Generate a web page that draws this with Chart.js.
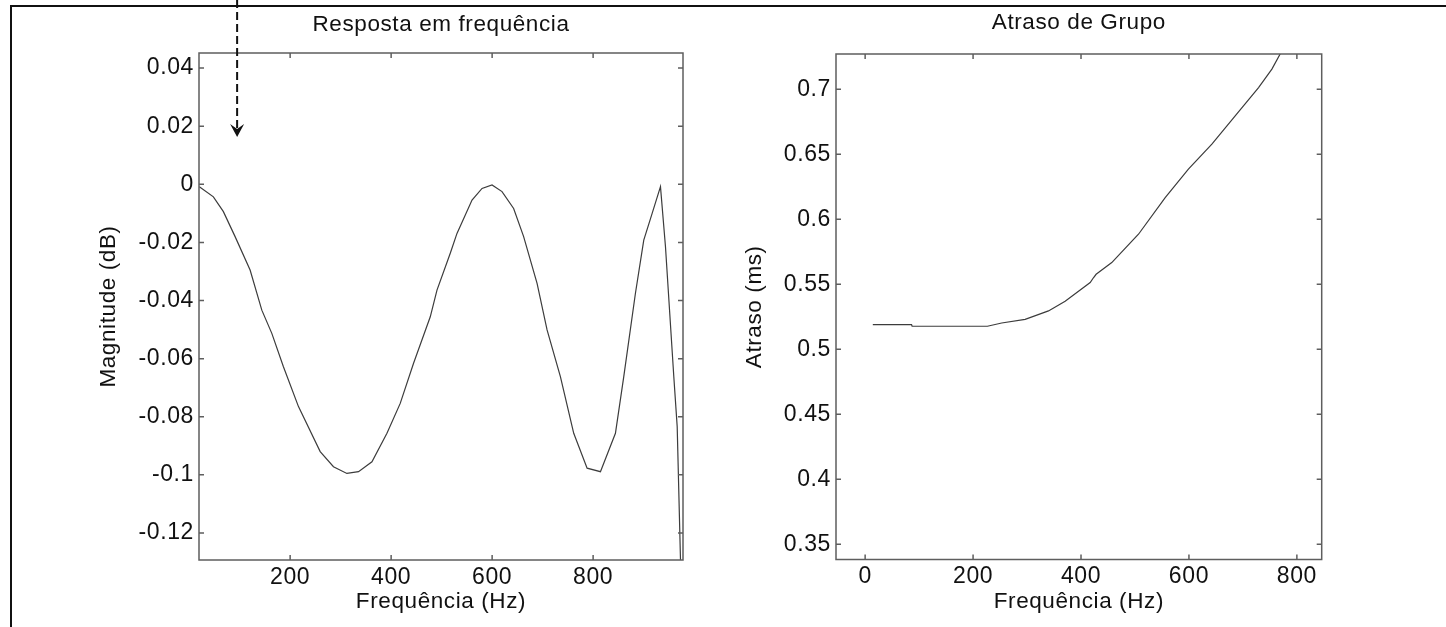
<!DOCTYPE html>
<html lang="pt">
<head>
<meta charset="utf-8">
<title>Resposta em frequência / Atraso de Grupo</title>
<script src="https://cdn.jsdelivr.net/npm/chart.js@4.4.1/dist/chart.umd.min.js"></script>
<style>
  html, body { margin: 0; padding: 0; background: #fff; }
  body { width: 1446px; height: 627px; position: relative; overflow: hidden; }
  #frame {
    position: absolute; left: 10px; top: 5px; width: 1450px; height: 640px;
    border-top: 2px solid #111; border-left: 2px solid #111;
  }
  #chartMag   { position: absolute; left: 0;     top: 0; }
  #chartDelay { position: absolute; left: 730px; top: 0; }
</style>
</head>
<body>
<div id="frame"></div>
<canvas id="chartMag" width="730" height="627"></canvas>
<canvas id="chartDelay" width="716" height="627"></canvas>

<script>
// ── Dados: resposta em frequência ─────────────────────────────
const magFreq = [
  20.2, 48, 67.8, 91, 120.7, 143.9, 163.7, 186.7, 216.5, 259.5,
  285.8, 312.4, 335.4, 362, 391.7, 418, 444.4, 477.5, 490.8, 517.1,
  530.4, 560.2, 580, 599.8, 619.6, 642.6, 662.4, 689, 708.8, 735.2,
  761.6, 788.1, 814.5, 844.2, 860.7, 883.8, 900.3, 916.9, 933.4, 943.3,
  959.8, 966.5, 973, 976
];
const magDb = [
  -0.0008, -0.0043, -0.0094, -0.018, -0.0295, -0.0433, -0.0513, -0.0628, -0.0765, -0.092,
  -0.0972, -0.0995, -0.0989, -0.0955, -0.0857, -0.0754, -0.0616, -0.0456, -0.0364, -0.0237,
  -0.0169, -0.0054, -0.0014, -0.0002, -0.0025, -0.0083, -0.018, -0.0341, -0.0501, -0.0662,
  -0.0857, -0.0977, -0.0989, -0.0857, -0.0662, -0.0375, -0.0192, -0.01, -0.0008, -0.0215,
  -0.0662, -0.0834, -0.129, -0.16
];
const magXTicks  = [200, 400, 600, 800];
const magYTicks  = [-0.12, -0.1, -0.08, -0.06, -0.04, -0.02, 0, 0.02, 0.04];
const magYLabels = ["-0.12", "-0.1", "-0.08", "-0.06", "-0.04", "-0.02", "0", "0.02", "0.04"];

// ── Dados: atraso de grupo ────────────────────────────────────
const delayFreq = [
  14.2, 86, 87, 226.6, 253, 296.5, 339.7, 370.6, 417, 423,
  428, 457, 506.5, 556, 599, 642.5, 685.7, 729, 753.7, 769, 778
];
const delayMs = [
  0.519, 0.519, 0.5177, 0.5177, 0.5202, 0.523, 0.5295, 0.537, 0.5513, 0.555,
  0.5577, 0.5667, 0.5885, 0.6167, 0.6386, 0.6578, 0.6796, 0.7014, 0.7156, 0.7272, 0.733
];
const delayXTicks  = [0, 200, 400, 600, 800];
const delayYTicks  = [0.35, 0.4, 0.45, 0.5, 0.55, 0.6, 0.65, 0.7];
const delayYLabels = ["0.35", "0.4", "0.45", "0.5", "0.55", "0.6", "0.65", "0.7"];

// seta tracejada (anotação) – posição em unidades do gráfico da esquerda
const arrowFreq = 95;
const arrowTipDb = 0.0163;

// ── Estilo comum ──────────────────────────────────────────────
const TEXT  = "#111";
const AXIS  = "#5e5e5e";
const CURVE = "#3c3c3c";
const TICK  = 5;
const TITLE_SIZE = 22.5; // títulos e rótulos dos eixos
const TICK_SIZE  = 23;   // números das escalas
const LH = 1.2;          // lineHeight padrão do Chart.js

Chart.defaults.font.family = '"Liberation Sans", Arial, sans-serif';
Chart.defaults.color = TEXT;

// um pouco de espaço entre letras (o original tem texto "aberto")
const spacingPlugin = {
  id: "spacing",
  beforeLayout(chart) { chart.ctx.letterSpacing = "0.6px"; },
  beforeDraw(chart)   { chart.ctx.letterSpacing = "0.6px"; }
};

// moldura da área + marcas de escala para dentro (estilo MATLAB)
const boxPlugin = {
  id: "box",
  afterDraw(chart) {
    const { ctx, chartArea: a, scales: { x, y } } = chart;
    ctx.save();
    ctx.strokeStyle = AXIS;
    ctx.lineWidth = 1.5;
    ctx.strokeRect(a.left, a.top, a.right - a.left, a.bottom - a.top);
    ctx.beginPath();
    x.ticks.forEach(t => {
      const px = x.getPixelForValue(t.value);
      ctx.moveTo(px, a.bottom); ctx.lineTo(px, a.bottom - TICK);
      ctx.moveTo(px, a.top);    ctx.lineTo(px, a.top + TICK);
    });
    y.ticks.forEach(t => {
      const py = y.getPixelForValue(t.value);
      ctx.moveTo(a.left, py);  ctx.lineTo(a.left + TICK, py);
      ctx.moveTo(a.right, py); ctx.lineTo(a.right - TICK, py);
    });
    ctx.stroke();
    ctx.restore();
  }
};

// seta tracejada que desce do topo
const arrowPlugin = {
  id: "arrow",
  afterDraw(chart) {
    const { ctx, scales: { x, y } } = chart;
    const ax = x.getPixelForValue(arrowFreq);
    const tip = y.getPixelForValue(arrowTipDb);
    ctx.save();
    ctx.strokeStyle = "#111";
    ctx.fillStyle = "#111";
    ctx.lineWidth = 2;
    ctx.setLineDash([8, 4]);
    ctx.beginPath();
    ctx.moveTo(ax, 0);
    ctx.lineTo(ax, tip - 9);
    ctx.stroke();
    ctx.setLineDash([]);
    ctx.beginPath();
    ctx.moveTo(ax, tip);
    ctx.lineTo(ax - 7, tip - 13);
    ctx.lineTo(ax, tip - 8);
    ctx.lineTo(ax + 7, tip - 13);
    ctx.closePath();
    ctx.fill();
    ctx.restore();
  }
};

// ── Construção de um gráfico ──────────────────────────────────
function buildChart(canvasId, cfg) {
  const points = cfg.xs.map((v, i) => ({ x: v, y: cfg.ys[i] }));
  const half = TITLE_SIZE * LH / 2;

  return new Chart(document.getElementById(canvasId), {
    type: "line",
    data: {
      datasets: [{
        data: points,
        borderColor: CURVE,
        borderWidth: 1.2,
        pointRadius: 0,
        tension: 0,
        fill: false
      }]
    },
    options: {
      responsive: false,
      animation: false,
      events: [],
      layout: { padding: { left: 0, top: 0, bottom: 0, right: cfg.padRight } },
      plugins: {
        legend: { display: false },
        tooltip: { enabled: false },
        title: {
          display: true,
          text: cfg.title,
          fullSize: false,
          color: TEXT,
          font: { size: TITLE_SIZE, weight: "normal" },
          padding: { top: cfg.titleY - half, bottom: cfg.areaTop - cfg.titleY - half }
        }
      },
      scales: {
        x: {
          type: "linear",
          min: cfg.xMin,
          max: cfg.xMax,
          afterBuildTicks: s => { s.ticks = cfg.xTicks.map(v => ({ value: v })); },
          afterFit: s => { s.height = cfg.xAxisHeight; },
          grid: { display: false, drawTicks: false },
          border: { display: false },
          ticks: { padding: 3.5, font: { size: TICK_SIZE }, color: TEXT, maxRotation: 0,
                   callback: v => String(v) },
          title: { display: true, text: "Frequência (Hz)", color: TEXT,
                   font: { size: TITLE_SIZE }, padding: { top: 0, bottom: 25 - half } }
        },
        y: {
          type: "linear",
          min: cfg.yMin,
          max: cfg.yMax,
          afterBuildTicks: s => { s.ticks = cfg.yTicks.map(v => ({ value: v })); },
          afterFit: s => { s.width = cfg.yAxisWidth; },
          grid: { display: false, drawTicks: false },
          border: { display: false },
          ticks: { padding: 5, font: { size: TICK_SIZE }, color: TEXT,
                   callback: (v, i) => cfg.yLabels[i] },
          title: { display: true, text: cfg.yTitle, color: TEXT,
                   font: { size: TITLE_SIZE }, padding: { top: cfg.yTitleX - half, bottom: 0 } }
        }
      }
    },
    plugins: cfg.plugins
  });
}

// ── Init ──────────────────────────────────────────────────────
buildChart("chartMag", {
  xs: magFreq, ys: magDb,
  title: "Resposta em frequência",
  titleY: 25, areaTop: 53,
  xMin: 19.5, xMax: 978, xTicks: magXTicks, xAxisHeight: 67,
  yMin: -0.1293, yMax: 0.0452, yTicks: magYTicks, yLabels: magYLabels,
  yTitle: "Magnitude (dB)", yTitleX: 109, yAxisWidth: 199,
  padRight: 47,
  plugins: [spacingPlugin, boxPlugin, arrowPlugin]
});

buildChart("chartDelay", {
  xs: delayFreq, ys: delayMs,
  title: "Atraso de Grupo",
  titleY: 23, areaTop: 54,
  xMin: -54, xMax: 846, xTicks: delayXTicks, xAxisHeight: 67.5,
  yMin: 0.3382, yMax: 0.7272, yTicks: delayYTicks, yLabels: delayYLabels,
  yTitle: "Atraso (ms)", yTitleX: 25, yAxisWidth: 106,
  padRight: 124.3,
  plugins: [spacingPlugin, boxPlugin]
});
</script>
</body>
</html>
